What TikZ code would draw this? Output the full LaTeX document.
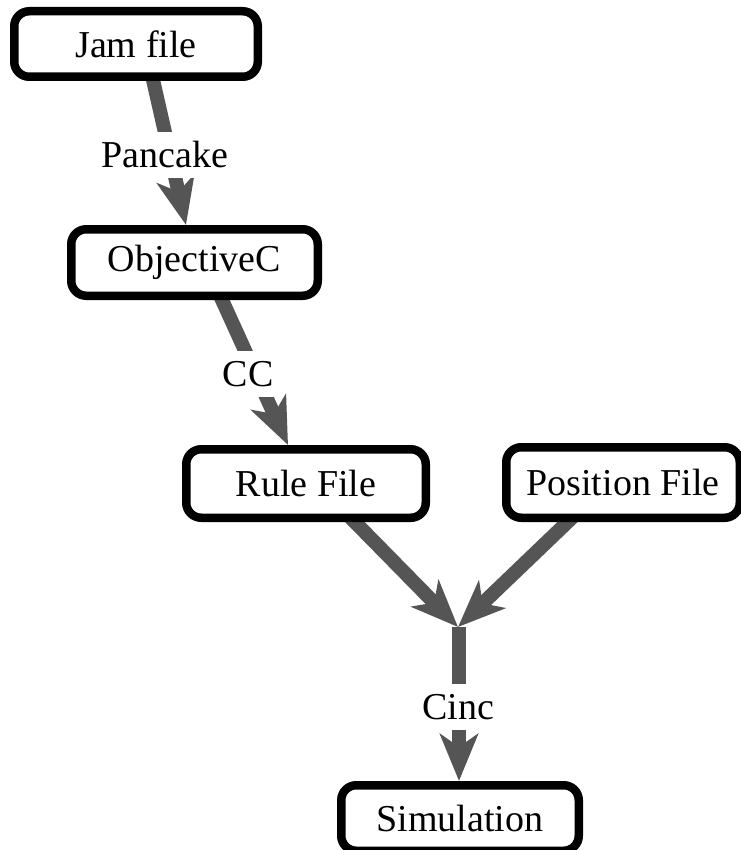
\documentclass[tikz,border=0pt]{standalone}
\usepackage{fontspec}
\setmainfont{Liberation Serif}
\usetikzlibrary{arrows.meta,backgrounds,calc}
\definecolor{edgegray}{HTML}{555555}
\tikzset{
  box/.style={draw=black, fill=white, line width=8.5pt, rounded corners=15pt,
    inner sep=0pt, font=\fontsize{38}{44}\selectfont},
  edgearrow/.style={draw=edgegray, line width=14pt,
    -{Stealth[length=47pt,width=38pt,inset=13pt]}},
  edgeline/.style={draw=edgegray, line width=14pt},
  lbl/.style={fill=white, inner xsep=3pt, inner ysep=10pt,
    font=\fontsize{38}{44}\selectfont}
}
\begin{document}
\begin{tikzpicture}[x=1pt,y=-1pt]
\useasboundingbox (0,0) rectangle (740,850);
% boxes
\node[box, minimum width=243.5pt, minimum height=65.5pt] (jam) at (136,44) {Jam file};
\node[box, minimum width=246.5pt, minimum height=66.5pt] (obj) at (194.5,262.5) {ObjectiveC};
\node[box, minimum width=239.5pt, minimum height=68.5pt] (rule) at (306,483.5) {Rule File};
\node[box, minimum width=233.5pt, minimum height=70.5pt] (pos) at (623,482.5) {Position File};
\node[box, minimum width=237.5pt, minimum height=65.5pt] (sim) at (460,818) {Simulation};
\coordinate (junc) at (458,627);
% edge labels
\node[lbl] (l1) at (165,155) {Pancake};
\node[lbl] (l2) at (248,374) {CC};
\node[lbl] (l3) at (458,707) {Cinc};
% edges
\begin{scope}[on background layer]
\draw[edgearrow] ($(jam.south)+(15,-10)$) -- ($(obj.north)+(-8.5,0)$);
\draw[edgearrow] ($(obj.south)+(23,-10)$) -- ($(rule.north)+(-18,0)$);
\draw[edgearrow] ($(rule.south)+(39,-10)$) -- (junc);
\draw[edgearrow] ($(pos.south)+(-45,-10)$) -- (junc);
\draw[edgearrow] ($(junc)+(1,0)$) -- ($(sim.north)+(-1,0)$);
\end{scope}
\end{tikzpicture}
\end{document}
